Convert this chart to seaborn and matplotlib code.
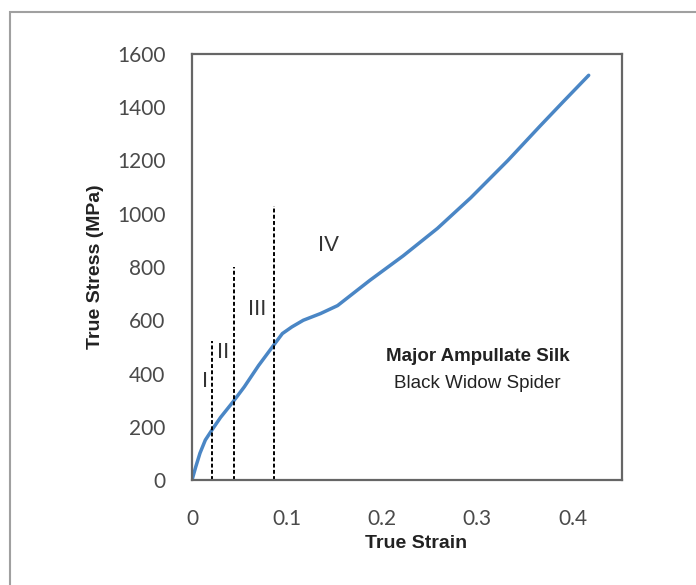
import numpy as np
import pandas as pd
import seaborn as sns
import matplotlib.pyplot as plt
from matplotlib.patches import Rectangle
from matplotlib.ticker import MultipleLocator

# stress-strain curve
strain = [0, 0.004, 0.0084, 0.014, 0.021, 0.03, 0.043, 0.055, 0.07, 0.086,
          0.095, 0.105, 0.117, 0.135, 0.153, 0.187, 0.222, 0.258, 0.293,
          0.332, 0.366, 0.39, 0.417]
stress = [0, 50, 101, 150, 188, 235, 293, 350, 430, 507,
          550, 575, 600, 625, 655, 750, 842, 945, 1060,
          1200, 1330, 1420, 1520]

# region boundaries (dashed lines) and their heights
bound_x = [0.021, 0.044, 0.086]
bound_top = [522, 800, 1030]

# region labels
reg_names = ["I", "II", "III", "IV"]
reg_x = [0.014, 0.033, 0.068, 0.143]
reg_y = [370, 480, 640, 880]

df = pd.DataFrame({"strain": strain, "stress": stress})

sns.set_style("white")
plt.rcParams['font.family'] = ['Lato', 'DejaVu Sans']

fig = plt.figure(figsize=(6.96, 5.85), dpi=100)
ax = fig.add_axes([192/696, 1-480/585, 430/696, 426/585])

# outer frame (only top and left visible)
fig.patches.append(Rectangle((10/696, -0.1), 1.2, 1 - 12/585 + 0.1,
                             transform=fig.transFigure, fill=False,
                             edgecolor="#a0a0a0", lw=1.5))

sns.lineplot(data=df, x="strain", y="stress", ax=ax, color="#4a86c5", lw=2.5)
ax.vlines(bound_x, 0, bound_top, colors="black", linestyles=(0, (2, 1.2)), lw=1.4)

for n, xx, yy in zip(reg_names, reg_x, reg_y):
    ax.text(xx, yy, n, ha="center", va="center", fontsize=16, color="#333333",
            family="Liberation Sans")

ax.text(0.30, 462, "Major Ampullate Silk", ha="center", va="center", fontsize=13.5,
        fontweight="bold", color="#222222", family="Liberation Sans")
ax.text(0.30, 364, "Black Widow Spider", ha="center", va="center", fontsize=13.5,
        color="#222222", family="Liberation Sans")

ax.set_xlim(0, 0.452)
ax.set_ylim(0, 1600)
ax.set_xticks([0, 0.1, 0.2, 0.3, 0.4])
ax.set_xticklabels(["0", "0.1", "0.2", "0.3", "0.4"])
ax.set_yticks(range(0, 1601, 200))
ax.xaxis.set_minor_locator(MultipleLocator(0.02))
ax.yaxis.set_minor_locator(MultipleLocator(40))
ax.tick_params(which="both", direction="in", color="#bbbbbb", width=0.8)
ax.tick_params(which="major", length=3, labelsize=15, labelcolor="#4a4a4a")
ax.tick_params(axis="x", which="major", pad=21)
ax.tick_params(axis="y", which="major", pad=19)
ax.tick_params(which="minor", length=2.5)
for s in ax.spines.values():
    s.set_color("#666666")
    s.set_linewidth(1.6)

ax.set_xlabel("True Strain", fontsize=14, fontweight="bold", color="#222222",
              family="Liberation Sans")
ax.set_ylabel("True Stress (MPa)", fontsize=14, fontweight="bold", color="#222222",
              family="Liberation Sans")
ax.xaxis.set_label_coords(0.52, -0.13)
ax.yaxis.set_label_coords(-0.205, 0.5)

fig.savefig("out.png", dpi=100)
